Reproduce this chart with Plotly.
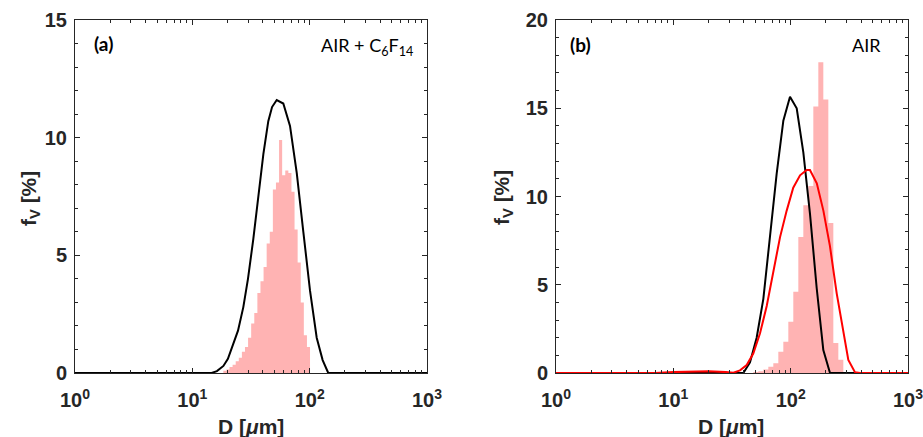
import plotly.graph_objects as go

# ---------------- data ----------------
# Panel (a): AIR + C6F14
a_curve_D = [1, 10, 14.6, 16.2, 18.4, 20.1, 22.3, 24.5, 27.2, 29.8, 33.1, 36.3, 40.3, 44.4,
             47.8, 52.4, 59.6, 68.0, 77.6, 88.3, 100.7, 114.8, 129, 144, 1000]
a_curve_fv = [0, 0, 0, 0.08, 0.3, 0.6, 1.2, 1.8, 2.8, 4.0, 5.7, 7.3, 9.3, 10.7,
              11.3, 11.6, 11.45, 10.5, 8.5, 6.0, 3.5, 1.5, 0.55, 0, 0]
a_hist_edges = [18.37, 19.52, 20.74, 22.04, 23.42, 24.89, 26.45, 28.10, 29.86, 31.73,
                33.73, 35.84, 38.08, 40.47, 43.0, 45.71, 48.57, 51.61, 54.85, 58.28,
                61.94, 65.81, 69.95, 74.33, 78.98, 83.95, 89.2, 94.8, 100.7]
a_hist_fv = [0.1, 0.15, 0.25, 0.35, 0.5, 0.65, 0.9, 1.1, 1.5, 2.1, 2.55, 3.4, 3.9, 4.5,
             5.5, 6.0, 7.8, 8.1, 9.9, 8.4, 8.6, 8.5, 7.7, 6.1, 4.7, 3.0, 1.6, 1.1]

# Panel (b): AIR
b_black_D = [1, 39.5, 45.0, 51.3, 58.5, 66.7, 76.0, 86.6, 98.7, 112.6, 128.2, 146.2,
             166.7, 189.8, 216.4, 1000]
b_black_fv = [0, 0, 0.6, 2.0, 4.2, 7.6, 11.3, 14.3, 15.65, 15.0, 12.5, 9.0, 4.8, 1.3, 0, 0]
b_red_D = [1, 7, 10, 15, 20, 28, 32.5, 37.0, 42.2, 48.0, 54.8, 62.5, 71.1, 81.2, 92.5,
           105.2, 120.2, 137, 146, 167, 190, 216, 247, 281, 310, 353, 390, 1000]
b_red_fv = [0, 0, 0.05, 0.1, 0.1, 0.05, 0.02, 0.15, 0.45, 1.1, 2.25, 3.8, 5.8, 7.7, 9.2,
            10.5, 11.2, 11.5, 11.5, 10.75, 9.2, 7.2, 4.5, 2.25, 0.74, 0.05, 0, 0]
b_hist_edges = [48.05, 53.0, 58.46, 64.5, 71.14, 78.48, 86.58, 95.5, 105.3, 116.2,
                128.2, 141.4, 156.0, 172.1, 189.8, 209.4, 231.0, 254.8, 281.1]
b_hist_fv = [0.05, 0.1, 0.2, 0.35, 0.55, 1.2, 1.77, 2.9, 4.6, 7.7, 9.5, 10.6, 15.1,
             17.6, 15.5, 8.5, 1.7, 0.75]

x_tickvals = [1, 10, 100, 1000]
x_ticktext = ["10<sup>0</sup>", "10<sup>1</sup>", "10<sup>2</sup>", "10<sup>3</sup>"]
x_minor = [m * 10 ** k for k in range(3) for m in range(2, 10)]
a_yticks = [0, 5, 10, 15]
b_yticks = [0, 5, 10, 15, 20]

# ---------------- figure ----------------
AX = "#262626"
PINK = "rgb(255,179,179)"
fig = go.Figure()

def hist_trace(edges, vals, xa, ya):
    return go.Scatter(x=edges, y=list(vals) + [0], mode="lines", line_shape="hv",
                      line=dict(width=0, color=PINK), fill="tozeroy", fillcolor=PINK,
                      xaxis=xa, yaxis=ya, showlegend=False, hoverinfo="skip")

fig.add_trace(hist_trace(a_hist_edges, a_hist_fv, "x", "y"))
fig.add_trace(go.Scatter(x=a_curve_D, y=a_curve_fv, mode="lines",
                         line=dict(color="black", width=2), xaxis="x", yaxis="y",
                         showlegend=False))
fig.add_trace(hist_trace(b_hist_edges, b_hist_fv, "x2", "y2"))
fig.add_trace(go.Scatter(x=b_black_D, y=b_black_fv, mode="lines",
                         line=dict(color="black", width=2), xaxis="x2", yaxis="y2",
                         showlegend=False))
fig.add_trace(go.Scatter(x=b_red_D, y=b_red_fv, mode="lines",
                         line=dict(color="#ff0000", width=2), xaxis="x2", yaxis="y2",
                         showlegend=False))

W, H = 923, 437
tickfont = dict(family="Liberation Sans", size=20, color=AX, weight="bold")

def xaxis(dom, anchor):
    return dict(type="log", range=[0, 3], domain=dom, anchor=anchor,
                tickmode="array", tickvals=x_tickvals, ticktext=x_ticktext,
                ticks="inside", ticklen=5, tickwidth=1, tickcolor=AX,
                showline=True, linecolor=AX, linewidth=1, mirror="ticks",
                showgrid=False, zeroline=False, tickfont=tickfont,
                ticklabelstandoff=9, ticklabeloverflow="allow",
                minor=dict(ticks="inside", ticklen=3, tickwidth=1, tickcolor=AX,
                           tickmode="array", tickvals=x_minor, showgrid=False),
                automargin=False)

def yaxis(rng, tv, anchor):
    return dict(range=rng, domain=[(H - 373) / H, (H - 20) / H], anchor=anchor,
                tickmode="array", tickvals=tv,
                ticks="inside", ticklen=5, tickwidth=1, tickcolor=AX,
                showline=True, linecolor=AX, linewidth=1, mirror="ticks",
                showgrid=False, zeroline=False, tickfont=tickfont,
                ticklabelstandoff=3, ticklabeloverflow="allow",
                minor=dict(ticks="inside", ticklen=3, tickwidth=1, tickcolor=AX,
                           dtick=1, showgrid=False),
                automargin=False)

fig.update_layout(
    width=W, height=H, margin=dict(l=0, r=0, t=0, b=0),
    paper_bgcolor="white", plot_bgcolor="white",
    xaxis=xaxis([75 / W, 427 / W], "y"),
    yaxis=yaxis([0, 15], a_yticks, "x"),
    xaxis2=xaxis([556 / W, 908 / W], "y2"),
    yaxis2=yaxis([0, 20], b_yticks, "x2"),
)

lab = dict(family="Liberation Sans", size=21, color=AX, weight="bold")
cal = dict(family="Lato", size=18, color="black")
cal_b = dict(family="Lato", size=19, color="black", weight="bold")
ann = [
    dict(x=251 / W, y=(H - 426) / H, text="D [<i>μ</i>m]", font=lab),
    dict(x=731 / W, y=(H - 426) / H, text="D [<i>μ</i>m]", font=lab),
    dict(x=30 / W, y=(H - 198) / H, text="f<sub>V</sub> [%]", font=lab, textangle=-90),
    dict(x=503 / W, y=(H - 198) / H, text="f<sub>V</sub> [%]", font=lab, textangle=-90),
    dict(x=103 / W, y=(H - 43) / H, text="(a)", font=cal_b),
    dict(x=580 / W, y=(H - 44) / H, text="(b)", font=cal_b),
    dict(x=415 / W, y=(H - 46) / H, text="AIR + C<sub>6</sub>F<sub>14</sub>", font=cal,
         xanchor="right"),
    dict(x=883 / W, y=(H - 45) / H, text="AIR", font=cal, xanchor="right"),
]
for a in ann:
    a.setdefault("xanchor", "center")
    fig.add_annotation(xref="paper", yref="paper", yanchor="middle", showarrow=False, **a)

fig.write_html("out.html", config={"displayModeBar": False},
               post_script="document.body.style.margin='0';document.body.style.padding='0';")
